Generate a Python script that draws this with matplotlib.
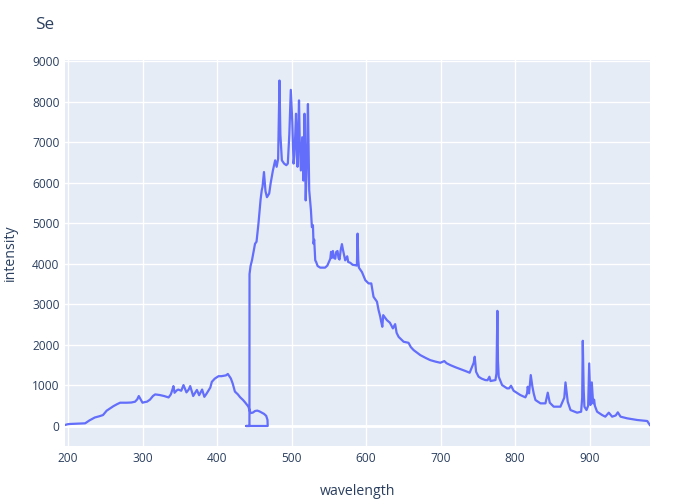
import matplotlib
matplotlib.use("Agg")
import matplotlib.pyplot as plt

# first spectrometer (UV/blue)
wl_a = [196, 200, 203, 210, 216, 223, 229, 236, 242, 247, 252, 256, 261, 266, 270,
        279, 285, 290, 293, 295, 298, 300, 303, 306, 310, 314, 317, 323, 329, 335,
        338, 340, 341.5, 343, 346, 348, 352, 355, 359, 362, 364, 368, 370, 373, 376,
        380, 383, 386, 389, 391, 393, 397, 402, 406, 409, 412, 414.5, 418.5, 421, 424,
        428, 431, 435, 438, 442, 445, 448, 451, 454, 457, 460, 463, 466, 467.7, 468]
int_a = [25, 45, 50, 55, 60, 66, 140, 210, 240, 270, 380, 430, 490, 540, 575,
         575, 580, 600, 660, 740, 640, 575, 590, 600, 650, 740, 780, 765, 740, 705,
         780, 890, 985, 820, 880, 900, 870, 1010, 830, 900, 985, 740, 800, 890, 760,
         900, 720, 800, 890, 950, 1090, 1170, 1230, 1230, 1240, 1250, 1285, 1175, 1050, 850,
         780, 710, 640, 575, 480, 320, 330, 370, 380, 360, 330, 300, 250, 150, 0]

# second spectrometer (visible/NIR)
wl_b = [439, 443.5, 443.6, 445, 447, 449, 451, 453, 455.6, 457, 458.5, 460, 461, 463,
        465, 467, 470, 472, 475, 478, 480, 482, 483.8, 485, 487, 490, 493, 495, 497,
        499, 501, 502.7, 504, 506, 507, 508, 510, 511, 512.5, 514.3, 516, 517.4, 519,
        520.5, 522, 523.7, 526, 527.3, 528.7, 529.5, 530.4, 531.8, 533, 535, 538.5, 545,
        548, 552, 553, 554, 555.5, 557, 558.6, 560, 561.7, 563, 564.4, 566, 567.6, 569,
        572, 574.7, 576, 578.8, 582, 585.5, 587.7, 588.6, 589.5, 590.4, 594.5, 599,
        603.4, 607, 610, 614.6, 616.8, 619, 620, 621.8, 623, 628, 632, 636, 639, 641,
        643.7, 650.4, 657, 660, 663.8, 672.8, 680, 686, 693, 699.7, 705, 708, 713, 720,
        726.5, 733, 739, 742.3, 744.4, 745.8, 747.6, 751, 755, 760, 763, 765.5, 767,
        773.6, 775, 776.2, 777, 778, 782.5, 789.2, 792, 794.5, 798, 807, 813.8, 816,
        816.9, 818.7, 821, 823.2, 825, 827.3, 834, 840.7, 843.8, 846.5, 851.8, 860.8,
        862.7, 866, 867.6, 870.6, 874.3, 883.2, 888.6, 890, 890.8, 892, 893, 895.8, 898,
        899.4, 901.1, 902.9, 904.7, 906, 907, 910, 916.7, 921, 925.7, 930.2, 935, 937.8,
        941.5, 950.4, 963.9, 977.3, 980.8]
int_b = [0, 0, 3750, 3950, 4100, 4300, 4500, 4550, 5000, 5300, 5600, 5820, 5900, 6270,
         5800, 5650, 5740, 6000, 6310, 6560, 6400, 6600, 8530, 7200, 6560, 6480, 6440, 6480, 7200,
         8300, 7500, 6480, 6700, 7710, 7000, 6400, 8040, 7000, 6310, 7130, 6060, 7710, 5570,
         6500, 7950, 5820, 5330, 4910, 4960, 4500, 4600, 4090, 4050, 3950, 3910, 3910,
         3960, 4130, 4300, 4150, 4320, 4150, 4130, 4300, 4320, 4150, 4110, 4350, 4490, 4350,
         4090, 4190, 4050, 4030, 3980, 3970, 3960, 4750, 4100, 3910, 3800, 3600,
         3520, 3520, 3190, 3070, 2860, 2700, 2600, 2450, 2737, 2613, 2550, 2410, 2515, 2300,
         2200, 2080, 2054, 1950, 1874, 1750, 1680, 1627, 1590, 1561, 1603, 1550, 1504, 1450,
         1405, 1360, 1315, 1463, 1560, 1710, 1340, 1216, 1170, 1134, 1130, 1216, 1110,
         1134, 1300, 2843, 1600, 1216, 1011, 929, 930, 994, 871, 764, 707, 800,
         970, 806, 1257, 970, 800, 641, 559, 559, 822, 575, 477, 477,
         559, 700, 1077, 600, 394, 329, 353, 700, 2104, 900, 477, 394, 500,
         1545, 518, 1077, 559, 650, 500, 353, 271, 230, 329, 230, 260, 337,
         230, 189, 148, 123, 25]

wavelength = wl_a + wl_b
intensity = int_a + int_b

txt = "#2a3f5f"
plt.rcParams['font.family'] = ['Open Sans', 'DejaVu Sans']

fig = plt.figure(figsize=(7, 5), dpi=100)
ax = fig.add_axes([65 / 700, 1 - 446 / 500, 585 / 700, 386 / 500])
ax.set_facecolor("#E5ECF6")
ax.plot(wavelength, intensity, color="#636EFA", lw=1.6, solid_joinstyle="round", zorder=3)

ax.set_xlim(196, 981)
ax.set_ylim(-494, 9037)
ax.set_xticks(range(200, 901, 100))
ax.set_yticks(range(0, 9001, 1000))
ax.grid(color="white", lw=1, zorder=0)
ax.axhline(0, color="white", lw=2, zorder=1)
ax.set_axisbelow(True)
for s in ax.spines.values():
    s.set_visible(False)
ax.tick_params(length=0, labelsize=8.6, labelcolor=txt, pad=4)

ax.set_xlabel("wavelength", fontsize=10.2, color=txt, labelpad=14)
ax.set_ylabel("intensity", fontsize=10.2, color=txt, labelpad=10)
fig.text(0.05, 1 - 25 / 500, "Se", fontsize=12.3, color=txt, va="center", ha="left")

fig.savefig("out.png", dpi=100)
